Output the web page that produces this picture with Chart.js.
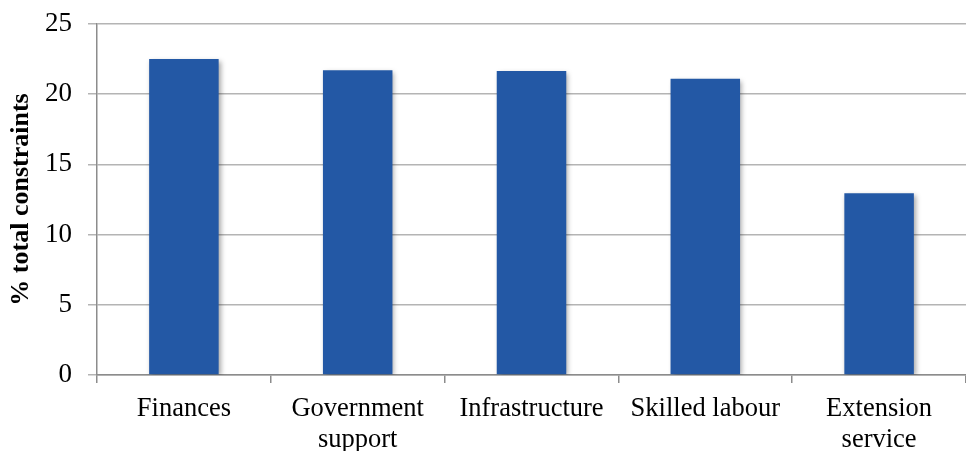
<!DOCTYPE html>
<html>
<head>
<meta charset="utf-8">
<script src="https://cdn.jsdelivr.net/npm/chart.js@4/dist/chart.umd.min.js"></script>
<style>
    html, body { margin: 0; padding: 0; background: #fff; }
    #wrap { width: 966px; height: 451px; }
</style>
</head>
<body>
<div id="wrap"><canvas id="constraintsChart" width="966" height="451"></canvas></div>
<script>
// Data
const categories = [['Finances'], ['Government', 'support'], ['Infrastructure'], ['Skilled labour'], ['Extension', 'service']];
const constraintValues = [22.5, 21.7, 21.65, 21.1, 12.95];
const yTicks = [0, 5, 10, 15, 20, 25];

// Soft shadow behind the bars, like the original spreadsheet chart
const barShadow = {
    id: 'barShadow',
    beforeDatasetsDraw(chart) {
        const ctx = chart.ctx;
        ctx.save();
        ctx.shadowColor = 'rgba(0, 0, 0, 0.35)';
        ctx.shadowBlur = 5;
        ctx.shadowOffsetX = 2;
        ctx.shadowOffsetY = 2;
    },
    afterDatasetsDraw(chart) {
        chart.ctx.restore();
    }
};

document.addEventListener('DOMContentLoaded', function() {
    const ctx = document.getElementById('constraintsChart').getContext('2d');

    new Chart(ctx, {
        type: 'bar',
        data: {
            labels: categories,
            datasets: [{
                label: '% total constraints',
                data: constraintValues,
                backgroundColor: '#2358a5',
                borderWidth: 0,
                categoryPercentage: 1,
                barPercentage: 0.4
            }]
        },
        options: {
            responsive: false,
            animation: false,
            layout: {
                padding: { top: 24, right: 0, bottom: 0, left: 6 }
            },
            plugins: {
                legend: { display: false },
                tooltip: { enabled: false }
            },
            scales: {
                x: {
                    offset: true,
                    grid: {
                        offset: true,
                        drawOnChartArea: false,
                        drawTicks: true,
                        tickLength: 8,
                        color: '#8c8c8c',
                        lineWidth: 1.5
                    },
                    border: { color: '#8c8c8c', width: 1.5 },
                    ticks: {
                        color: '#000',
                        padding: 11,
                        maxRotation: 0,
                        autoSkip: false,
                        font: { family: '"Liberation Serif", "Times New Roman", serif', size: 26.5, lineHeight: 1.15 }
                    },
                    afterFit(scale) {
                        scale.height = 76;
                        scale.paddingLeft = 0;
                        scale.paddingRight = 0;
                    }
                },
                y: {
                    min: 0,
                    max: 25,
                    afterBuildTicks(scale) {
                        scale.ticks = yTicks.map(v => ({ value: v }));
                    },
                    grid: {
                        color: '#b4b4b4',
                        lineWidth: 1.5,
                        tickLength: 9
                    },
                    border: { color: '#8c8c8c', width: 1.5 },
                    ticks: {
                        color: '#000',
                        padding: 16,
                        font: { family: '"Liberation Serif", "Times New Roman", serif', size: 27 }
                    },
                    title: {
                        display: true,
                        text: '% total constraints',
                        color: '#000',
                        padding: { top: 0, bottom: 4 },
                        font: { family: '"Liberation Serif", "Times New Roman", serif', size: 26, weight: 'bold' }
                    },
                    afterFit(scale) {
                        scale.width = 91;
                        scale.paddingTop = 0;
                        scale.paddingBottom = 0;
                    }
                }
            }
        },
        plugins: [barShadow]
    });
});
</script>
</body>
</html>
